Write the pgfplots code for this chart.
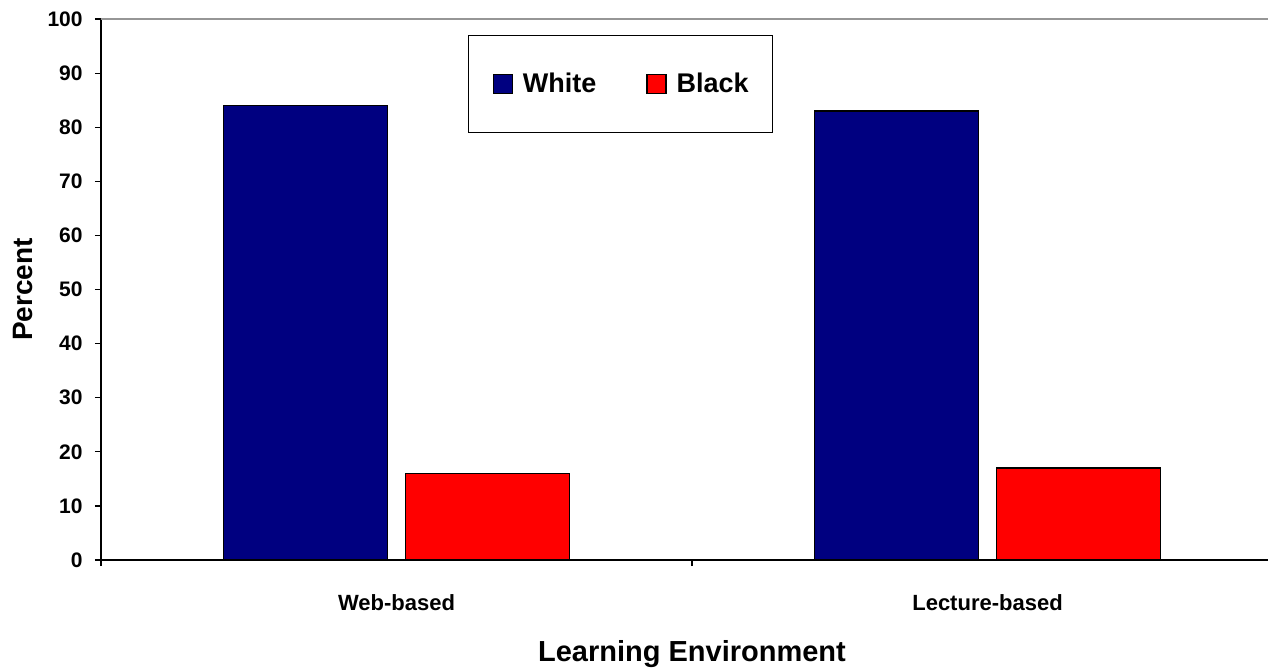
\documentclass[border=0pt]{standalone}
\usepackage{fontspec}
\setmainfont{Liberation Sans}
\usepackage{pgfplots}
\pgfplotsset{compat=1.18}
\definecolor{navyb}{RGB}{0,0,128}
\definecolor{redb}{RGB}{255,0,0}
\definecolor{topgray}{RGB}{150,150,150}
\begin{document}
\begin{tikzpicture}
\begin{axis}[
  scale only axis, width=583.5pt, height=270.5pt,
  xmin=-0.5, xmax=1.4746, ymin=0, ymax=100,
  axis x line*=bottom, axis y line*=left,
  axis line style={-, line width=0.6pt, black},
  ytick={0,10,...,100},
  xtick={-0.5,0.5}, xticklabels={},
  extra x ticks={0,1},
  extra x tick labels={Web-based,Lecture-based},
  extra x tick style={major tick length=0pt, tick style={draw=none},
     xticklabel style={font=\fontsize{11}{13}\selectfont\bfseries, anchor=base, inner sep=0pt, yshift=-25pt}},
  tick align=outside, major tick length=3pt,
  tick style={black, line width=0.6pt},
  /pgf/number format/assume math mode=true,
  yticklabel style={font=\fontsize{10.5}{12}\selectfont\bfseries, anchor=east, inner sep=0pt, xshift=-6pt},
  xlabel={Learning Environment},
  xlabel style={at={(axis description cs:0.5064,-0.1885)}, anchor=base, font=\fontsize{14.5}{17}\selectfont\bfseries},
  ylabel={Percent},
  ylabel style={at={(axis description cs:-0.0583,0.5)}, anchor=base, font=\fontsize{14}{17}\selectfont\bfseries},
  legend columns=2,
  legend style={at={(0.3145,0.9704)}, anchor=north west, draw=black, line width=0.6pt,
    inner xsep=12pt, inner ysep=18.5pt,
    font=\fontsize{13.5}{16}\selectfont\bfseries,
    nodes={inner sep=0pt},
    /tikz/every odd column/.style={column sep=5pt},
    /tikz/every even column/.style={column sep=25pt}},
  legend image code/.code={\draw[#1, line width=0.6pt] (0pt,-4.75pt) rectangle (9.5pt,4.75pt);},
]
\addplot[ybar, bar width=82pt, bar shift=-45.375pt, fill=navyb, draw=black, line width=0.6pt]
  coordinates {(0,84) (1,83)};
\addplot[ybar, bar width=82pt, bar shift=45.375pt, fill=redb, draw=black, line width=0.6pt]
  coordinates {(0,16) (1,17)};
\legend{White,Black}
\draw[topgray, line width=1pt] (rel axis cs:0,1) -- (rel axis cs:1,1);
\end{axis}
\pgfresetboundingbox
\path ([shift={(-50.5pt,-55pt)}]current axis.south west) rectangle ([shift={(0pt,9.5pt)}]current axis.north east);
\end{tikzpicture}
\end{document}
